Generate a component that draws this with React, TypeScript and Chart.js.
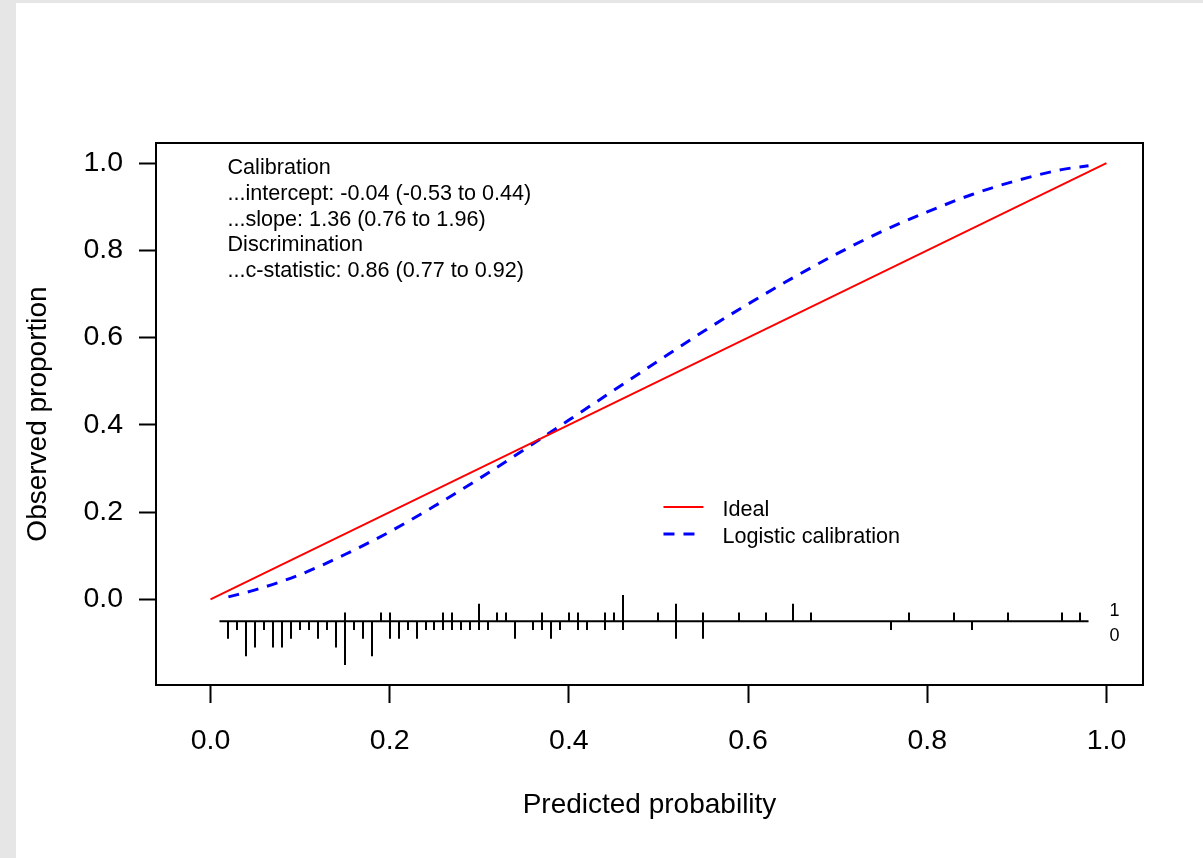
import React, { useEffect, useRef } from "react";
import { Chart, registerables } from "chart.js";

Chart.register(...registerables);

// ---------- data ----------
const xTickValues = [0, 0.2, 0.4, 0.6, 0.8, 1.0];
const yTickValues = [0, 0.2, 0.4, 0.6, 0.8, 1.0];

const idealP = [0, 1];
const idealObs = [0, 1];

const calP = [0.02, 0.05, 0.10, 0.15, 0.20, 0.25, 0.30, 0.35, 0.40, 0.45, 0.50, 0.55, 0.60, 0.65, 0.70, 0.75, 0.80, 0.85, 0.90, 0.95, 0.98];
const calObs = [0.006, 0.022, 0.057, 0.103, 0.155, 0.214, 0.277, 0.343, 0.411, 0.479, 0.547, 0.614, 0.677, 0.737, 0.793, 0.844, 0.888, 0.928, 0.960, 0.985, 0.994];

// rug: predicted-probability bins, count of events (1) and non-events (0)
const rugP = [0.02, 0.03, 0.04, 0.05, 0.06, 0.07, 0.08, 0.09, 0.10, 0.11, 0.12, 0.13, 0.14, 0.15, 0.16, 0.17, 0.18, 0.19, 0.20, 0.21, 0.22, 0.23, 0.24, 0.25, 0.26, 0.27, 0.28, 0.29, 0.30, 0.31, 0.32, 0.33, 0.34, 0.36, 0.37, 0.38, 0.39, 0.40, 0.41, 0.42, 0.44, 0.45, 0.46, 0.50, 0.52, 0.55, 0.59, 0.62, 0.65, 0.67, 0.76, 0.78, 0.83, 0.85, 0.89, 0.95, 0.97];
const rugOnes = [0, 0, 0, 0, 0, 0, 0, 0, 0, 0, 0, 0, 0, 1, 0, 0, 0, 1, 1, 0, 0, 0, 0, 0, 1, 1, 0, 0, 2, 0, 1, 1, 0, 0, 1, 0, 0, 1, 1, 0, 1, 1, 3, 1, 2, 1, 1, 1, 2, 1, 0, 1, 1, 0, 1, 1, 1];
const rugZeros = [2, 1, 4, 3, 1, 3, 3, 2, 1, 1, 2, 1, 3, 5, 1, 2, 4, 0, 2, 2, 1, 2, 1, 1, 1, 1, 1, 1, 1, 1, 0, 0, 2, 1, 1, 2, 1, 0, 1, 1, 1, 0, 1, 0, 2, 2, 0, 0, 0, 0, 1, 0, 0, 1, 0, 0, 0];
const rugRange = [0.01, 0.98];
const rugBase = -0.05;
const rugUnit = 0.02;
const rugLabels = ["1", "0"];

const statLines = [
  "Calibration",
  "...intercept: -0.04 (-0.53 to 0.44)",
  "...slope: 1.36 (0.76 to 1.96)",
  "Discrimination",
  "...c-statistic: 0.86 (0.77 to 0.92)",
];
const legendLabels = ["Ideal", "Logistic calibration"];
const xTitle = "Predicted probability";
const yTitle = "Observed proportion";

// ---------- styling ----------
const FONT = "'Liberation Sans', Arial, Helvetica, sans-serif";
const RED = "#ff0000";
const BLUE = "#0000ff";
const DASH = [11, 9];

const overlayPlugin = {
  id: "overlay",
  afterDatasetsDraw(chart: any) {
    const { ctx, chartArea: ca, scales } = chart;
    const xs = scales.x;
    const ys = scales.y;
    ctx.save();

    // plot box
    ctx.strokeStyle = "#000";
    ctx.lineWidth = 2;
    ctx.strokeRect(ca.left, ca.top, ca.right - ca.left, ca.bottom - ca.top);

    // rug
    const base = ys.getPixelForValue(rugBase);
    ctx.lineCap = "butt";
    ctx.beginPath();
    ctx.moveTo(xs.getPixelForValue(rugRange[0]), base);
    ctx.lineTo(xs.getPixelForValue(rugRange[1]), base);
    ctx.stroke();
    rugP.forEach((p, i) => {
      const px = Math.round(xs.getPixelForValue(p));
      if (rugOnes[i] > 0) {
        ctx.beginPath();
        ctx.moveTo(px, base);
        ctx.lineTo(px, ys.getPixelForValue(rugBase + rugOnes[i] * rugUnit));
        ctx.stroke();
      }
      if (rugZeros[i] > 0) {
        ctx.beginPath();
        ctx.moveTo(px, base);
        ctx.lineTo(px, ys.getPixelForValue(rugBase - rugZeros[i] * rugUnit));
        ctx.stroke();
      }
    });
    ctx.fillStyle = "#000";
    ctx.font = `18px ${FONT}`;
    ctx.textAlign = "center";
    ctx.textBaseline = "alphabetic";
    const labX = xs.getPixelForValue(1.009);
    ctx.fillText(rugLabels[0], labX, base - 5);
    ctx.fillText(rugLabels[1], labX, base + 19.5);

    // statistics text
    ctx.font = `21.6px ${FONT}`;
    ctx.textAlign = "left";
    const sx = xs.getPixelForValue(0.019);
    const sy = ys.getPixelForValue(0.974);
    statLines.forEach((t, i) => ctx.fillText(t, sx, sy + i * 25.6));

    // legend
    const lx0 = xs.getPixelForValue(0.5056);
    const lx1 = xs.getPixelForValue(0.5502);
    const tx = xs.getPixelForValue(0.5714);
    const ly0 = ys.getPixelForValue(0.212);
    const ly1 = ys.getPixelForValue(0.150);
    ctx.strokeStyle = RED;
    ctx.lineWidth = 2;
    ctx.beginPath();
    ctx.moveTo(lx0, ly0);
    ctx.lineTo(lx1, ly0);
    ctx.stroke();
    ctx.strokeStyle = BLUE;
    ctx.lineWidth = 3;
    ctx.setLineDash(DASH);
    ctx.beginPath();
    ctx.moveTo(lx0, ly1);
    ctx.lineTo(lx1, ly1);
    ctx.stroke();
    ctx.setLineDash([]);
    ctx.fillText(legendLabels[0], tx, ly0 + 9.5);
    ctx.fillText(legendLabels[1], tx, ly1 + 9);

    ctx.restore();
  },
};

export default function App() {
  const canvasRef = useRef<HTMLCanvasElement | null>(null);

  useEffect(() => {
    const canvas = canvasRef.current;
    if (!canvas) return;
    const chart = new Chart(canvas, {
      type: "line",
      data: {
        datasets: [
          {
            label: legendLabels[0],
            data: idealP.map((p, i) => ({ x: p, y: idealObs[i] })),
            borderColor: RED,
            borderWidth: 2,
            pointRadius: 0,
            fill: false,
          },
          {
            label: legendLabels[1],
            data: calP.map((p, i) => ({ x: p, y: calObs[i] })),
            borderColor: BLUE,
            borderWidth: 3,
            borderDash: DASH,
            pointRadius: 0,
            fill: false,
            cubicInterpolationMode: "monotone",
          },
        ],
      },
      options: {
        animation: false,
        responsive: false,
        events: [],
        layout: { padding: { left: 0, top: 140, right: 60, bottom: 0 } },
        plugins: {
          legend: { display: false },
          tooltip: { enabled: false },
        },
        scales: {
          x: {
            type: "linear",
            min: -0.0608,
            max: 1.0408,
            afterBuildTicks: (s: any) => {
              s.ticks = xTickValues.map((v) => ({ value: v }));
            },
            afterFit: (s: any) => {
              s.height = 173;
            },
            border: { display: false },
            grid: {
              drawOnChartArea: false,
              drawTicks: true,
              tickLength: 18,
              tickWidth: 2,
              tickColor: "#000",
            },
            ticks: {
              padding: 21,
              color: "#000",
              autoSkip: false,
              maxRotation: 0,
              font: { family: FONT, size: 28.5 },
              callback: (v: any) => Number(v).toFixed(1),
            },
            title: {
              display: true,
              text: xTitle,
              color: "#000",
              font: { family: FONT, size: 28 },
              padding: { top: 0, bottom: 35.5 },
            },
          },
          y: {
            type: "linear",
            min: -0.196,
            max: 1.046,
            afterBuildTicks: (s: any) => {
              s.ticks = yTickValues.map((v) => ({ value: v }));
            },
            afterFit: (s: any) => {
              s.width = 140;
            },
            border: { display: false },
            grid: {
              drawOnChartArea: false,
              drawTicks: true,
              tickLength: 17,
              tickWidth: 2,
              tickColor: "#000",
            },
            ticks: {
              padding: 16,
              color: "#000",
              autoSkip: false,
              font: { family: FONT, size: 28.5 },
              callback: (v: any) => Number(v).toFixed(1),
            },
            title: {
              display: true,
              text: yTitle,
              color: "#000",
              font: { family: FONT, size: 28 },
              padding: { top: 5, bottom: 0 },
            },
          },
        },
      },
      plugins: [overlayPlugin],
    } as any);
    return () => chart.destroy();
  }, []);

  return (
    <div
      style={{
        position: "fixed",
        left: 0,
        top: 0,
        width: 1203,
        height: 858,
        background: "#e6e6e6",
        overflow: "hidden",
      }}
    >
      <canvas
        ref={canvasRef}
        width={1187}
        height={855}
        style={{
          position: "absolute",
          left: 16,
          top: 3,
          width: 1187,
          height: 855,
          background: "#ffffff",
          display: "block",
        }}
      />
    </div>
  );
}
